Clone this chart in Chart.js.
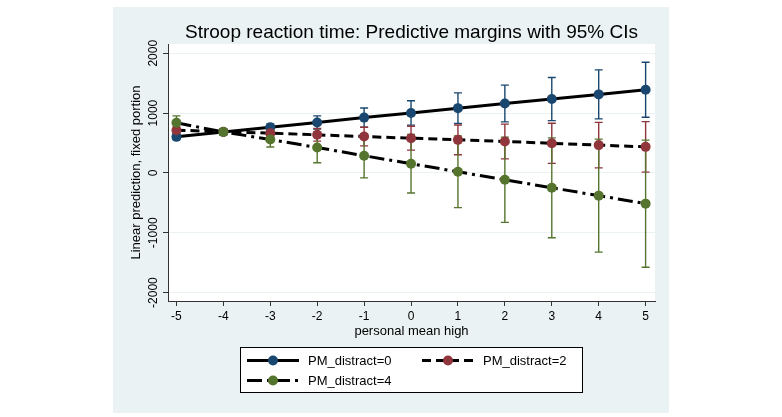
<!DOCTYPE html>
<html><head><meta charset="utf-8">
<script src="https://cdn.jsdelivr.net/npm/chart.js@4"></script>
<style>html,body{margin:0;padding:0;background:#fff;}#wrap{width:782px;height:417px;position:relative}</style>
</head><body><div id="wrap"><canvas id="c" width="782" height="417"></canvas></div>
<script>
const xValues = [-5,-4,-3,-2,-1,0,1,2,3,4,5];
const xTickValues = [-5,-4,-3,-2,-1,0,1,2,3,4,5];
const yTickValues = [-2000,-1000,0,1000,2000];
const seriesLabels = ['PM_distract=0','PM_distract=2','PM_distract=4'];
const pm0   = [603, 683, 765, 843, 925, 1003, 1083, 1160, 1235, 1313, 1390];
const pm0Lo = [558, 653, 712, 733, 765, 800, 828, 853, 875, 903, 930];
const pm0Hi = [648, 713, 818, 953, 1085, 1206, 1338, 1467, 1595, 1723, 1850];
const pm2   = [715, 690, 665, 637, 608, 581, 553, 526, 495, 465, 436];
const pm2Lo = [660, 655, 605, 532, 453, 381, 305, 236, 160, 85, 14];
const pm2Hi = [770, 725, 725, 742, 763, 781, 801, 816, 830, 845, 858];
const pm4   = [838, 685, 559, 425, 288, 154, 20, -114, -248, -379, -513];
const pm4Lo = [723, 630, 434, 170, -82, -336, -580, -826, -1082, -1323, -1575];
const pm4Hi = [953, 740, 684, 680, 658, 644, 620, 598, 586, 565, 549];
const titleText = 'Stroop reaction time: Predictive margins with 95% CIs';
const xTitle = 'personal mean high';
const yTitle = 'Linear prediction, fixed portion';

const FONT = '"Liberation Sans", Arial, Helvetica, sans-serif';
const C0 = '#1a476f', C2 = '#90353b', C4 = '#55752f';
const dashes = [[], [9,5], [15,5,3,5]];
const colors = [C0, C2, C4];
const ciSets = [{lo:pm0Lo,hi:pm0Hi,color:C0},{lo:pm2Lo,hi:pm2Hi,color:C2},{lo:pm4Lo,hi:pm4Hi,color:C4}];

const bgPlugin = {
  id:'bg',
  beforeDraw(chart){
    const ctx = chart.ctx, a = chart.chartArea;
    ctx.save();
    ctx.fillStyle = '#fff'; ctx.fillRect(0,0,chart.width,chart.height);
    ctx.fillStyle = '#eaf2f3'; ctx.fillRect(113,7,556,406);
    ctx.fillStyle = '#fff'; ctx.fillRect(a.left,a.top,a.right-a.left,a.bottom-a.top);
    ctx.restore();
  }
};
const ciPlugin = {
  id:'ci',
  beforeDatasetsDraw(chart){
    const ctx = chart.ctx, xs = chart.scales.x, ys = chart.scales.y;
    ctx.save();
    ciSets.forEach(s=>{
      ctx.strokeStyle = s.color; ctx.lineWidth = 1.4;
      for(let i=0;i<xValues.length;i++){
        const x = xs.getPixelForValue(xValues[i]);
        const y1 = ys.getPixelForValue(s.lo[i]), y2 = ys.getPixelForValue(s.hi[i]);
        ctx.beginPath();
        ctx.moveTo(x,y1); ctx.lineTo(x,y2);
        ctx.moveTo(x-4,y1); ctx.lineTo(x+4,y1);
        ctx.moveTo(x-4,y2); ctx.lineTo(x+4,y2);
        ctx.stroke();
      }
    });
    ctx.restore();
  }
};
const textPlugin = {
  id:'texts',
  afterDraw(chart){
    const ctx = chart.ctx, a = chart.chartArea, ys = chart.scales.y;
    ctx.save();
    ctx.fillStyle = '#000';
    ctx.font = '19px ' + FONT;
    ctx.textAlign = 'center'; ctx.textBaseline = 'middle';
    ctx.fillText(titleText, (a.left+a.right)/2, 33);
    ctx.font = '12px ' + FONT;
    yTickValues.forEach(v=>{
      const y = ys.getPixelForValue(v);
      ctx.save(); ctx.translate(154, y); ctx.rotate(-Math.PI/2);
      ctx.textAlign = 'center'; ctx.textBaseline = 'middle';
      ctx.fillText(String(v), 0, 0);
      ctx.restore();
    });
    const bx = 240.5, by = 347.5, bw = 342, bh = 45;
    ctx.fillStyle = '#fff'; ctx.fillRect(bx,by,bw,bh);
    ctx.strokeStyle = '#000'; ctx.lineWidth = 1; ctx.strokeRect(bx,by,bw,bh);
    const entries = [{x:247,y:360.5,i:0},{x:422,y:360.5,i:1},{x:247,y:380.5,i:2}];
    entries.forEach(e=>{
      ctx.strokeStyle = '#000'; ctx.lineWidth = 3; ctx.setLineDash(dashes[e.i]);
      ctx.beginPath(); ctx.moveTo(e.x, e.y); ctx.lineTo(e.x+52, e.y); ctx.stroke();
      ctx.setLineDash([]);
      ctx.fillStyle = colors[e.i];
      ctx.beginPath(); ctx.arc(e.x+26, e.y, 5, 0, Math.PI*2); ctx.fill();
      ctx.fillStyle = '#000'; ctx.font = '13px ' + FONT;
      ctx.textAlign = 'left'; ctx.textBaseline = 'middle';
      ctx.fillText(seriesLabels[e.i], e.x+61, e.y+1);
    });
    ctx.restore();
  }
};

function mk(vals){ return xValues.map((x,i)=>({x:x, y:vals[i]})); }
const allSeries = [pm0, pm2, pm4];
const datasets = allSeries.map((vals,k)=>({
  label: seriesLabels[k],
  data: mk(vals),
  borderColor: '#000',
  borderWidth: 3,
  borderDash: dashes[k],
  pointRadius: 5,
  pointHoverRadius: 5,
  pointBackgroundColor: colors[k],
  pointBorderColor: colors[k],
  pointBorderWidth: 0,
  fill: false,
  tension: 0,
  order: 3-k
}));

new Chart(document.getElementById('c'), {
  type: 'line',
  data: { datasets },
  options: {
    responsive: false, animation: false, devicePixelRatio: 1,
    layout: { padding: { left:125, right:127, top:44, bottom:74 } },
    plugins: { legend:{display:false}, title:{display:false}, tooltip:{enabled:false} },
    scales: {
      x: {
        type:'linear', min:-5.18, max:5.2,
        afterBuildTicks: s=>{ s.ticks = xTickValues.map(v=>({value:v})); },
        afterFit: s=>{ s.height = 42; },
        ticks: { font:{family:FONT,size:12}, color:'#000', padding:3, maxRotation:0, minRotation:0, callback:v=>String(v) },
        grid: { drawOnChartArea:false, tickLength:5, color:'#333', lineWidth:1 },
        border: { color:'#333', width:1 },
        title: { display:true, text:xTitle, font:{family:FONT,size:13}, color:'#000', padding:{top:4,bottom:4} }
      },
      y: {
        type:'linear', min:-2140, max:2155,
        afterBuildTicks: s=>{ s.ticks = yTickValues.map(v=>({value:v})); },
        afterFit: s=>{ s.width = 43; },
        ticks: { display:false },
        grid: { color:'#eaf2f3', tickColor:'#333', tickLength:5, lineWidth:1 },
        border: { color:'#333', width:1 },
        title: { display:true, text:yTitle, font:{family:FONT,size:13}, color:'#000', padding:{top:4,bottom:4} }
      }
    }
  },
  plugins: [bgPlugin, ciPlugin, textPlugin]
});
</script></body></html>
